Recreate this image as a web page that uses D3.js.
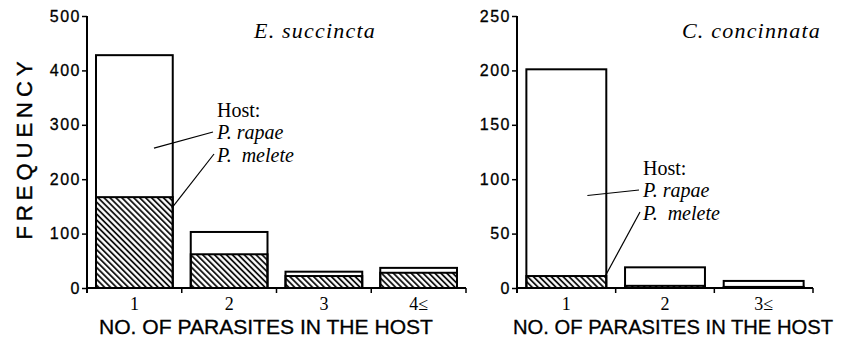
<!DOCTYPE html>
<html>
<head>
<meta charset="utf-8">
<script src="https://cdn.jsdelivr.net/npm/d3@7"></script>
<style>
  body { margin: 0; background: #fff; }
  svg { display: block; }
  .tick-num { font-family: "Liberation Sans", Arial, sans-serif; font-size: 16px; letter-spacing: 1.5px; stroke: #000; stroke-width: 0.3px; }
  .cat { font-family: "Liberation Serif", "Times New Roman", serif; font-size: 18px; }
  .xlab { font-family: "Liberation Sans", Arial, sans-serif; font-size: 20px; stroke: #000; stroke-width: 0.3px; }
  .ylab { font-family: "Liberation Sans", Arial, sans-serif; font-size: 22px; letter-spacing: 5px; stroke: #000; stroke-width: 0.4px; }
  .title { font-family: "Liberation Serif", "Times New Roman", serif; font-size: 22px; font-style: italic; letter-spacing: 1.2px; }
  .legend { font-family: "Liberation Serif", "Times New Roman", serif; font-size: 20px; }
</style>
</head>
<body>
<svg width="847" height="339"></svg>
<script>
// left panel: E. succincta
const catsA = ['1', '2', '3', '4\u2264'];
const totalA = [428, 103, 30, 37];
const meleteA = [167, 62, 22, 28];
const ticksA = [0, 100, 200, 300, 400, 500];

// right panel: C. concinnata
const catsB = ['1', '2', '3\u2264'];
const totalB = [201, 19, 6.5];
const meleteB = [11, 2, 1];
const ticksB = [0, 50, 100, 150, 200, 250];

const svg = d3.select('svg');

// hatch for P. melete
const defs = svg.append('defs');
defs.append('pattern')
    .attr('id', 'hatch')
    .attr('patternUnits', 'userSpaceOnUse')
    .attr('width', 4.2)
    .attr('height', 10)
    .attr('patternTransform', 'rotate(-45)')
  .append('line')
    .attr('x1', 1).attr('y1', 0)
    .attr('x2', 1).attr('y2', 10)
    .attr('stroke', '#000')
    .attr('stroke-width', 1.7);

function drawPanel(opt) {
    const g = svg.append('g');

    const x = d3.scaleBand()
        .domain(opt.cats)
        .range([opt.x0, opt.x1])
        .paddingInner(0.19)
        .paddingOuter(0.095);

    const y = d3.scaleLinear()
        .domain([0, opt.ymax])
        .range([288, 16]);

    // bars: total outline, then melete hatched part
    g.selectAll('rect.total')
        .data(opt.cats)
        .enter().append('rect')
            .attr('class', 'total')
            .attr('x', d => x(d))
            .attr('y', (d, i) => y(opt.total[i]))
            .attr('width', x.bandwidth())
            .attr('height', (d, i) => y(0) - y(opt.total[i]))
            .attr('fill', '#fff')
            .attr('stroke', '#000')
            .attr('stroke-width', 2);

    g.selectAll('rect.melete')
        .data(opt.cats)
        .enter().append('rect')
            .attr('class', 'melete')
            .attr('x', d => x(d))
            .attr('y', (d, i) => y(opt.melete[i]))
            .attr('width', x.bandwidth())
            .attr('height', (d, i) => y(0) - y(opt.melete[i]))
            .attr('fill', 'url(#hatch)')
            .attr('stroke', '#000')
            .attr('stroke-width', 2);

    // y axis
    const yAxis = d3.axisLeft(y)
        .tickValues(opt.ticks)
        .tickSize(5)
        .tickPadding(1)
        .tickFormat(d3.format('d'));
    const ya = g.append('g')
        .attr('transform', 'translate(' + opt.x0 + ',0)')
        .call(yAxis);
    ya.select('.domain').attr('stroke-width', 2).attr('d', 'M0,' + y(opt.ymax) + 'V' + (y(0) + 5));
    ya.selectAll('.tick line').attr('stroke-width', 1.5);
    ya.selectAll('.tick text').attr('class', 'tick-num').attr('font-size', null).attr('font-family', null).attr('fill', '#000');

    // x axis with ticks on band boundaries
    g.append('line')
        .attr('x1', opt.x0).attr('x2', opt.x1)
        .attr('y1', y(0)).attr('y2', y(0))
        .attr('stroke', '#000').attr('stroke-width', 2);
    const half = x.step() * x.paddingInner() / 2;
    g.selectAll('line.xt')
        .data(opt.cats)
        .enter().append('line')
            .attr('class', 'xt')
            .attr('x1', d => x(d) + x.bandwidth() + half)
            .attr('x2', d => x(d) + x.bandwidth() + half)
            .attr('y1', y(0)).attr('y2', y(0) + 5)
            .attr('stroke', '#000').attr('stroke-width', 1.5);

    g.selectAll('text.cat')
        .data(opt.cats)
        .enter().append('text')
            .attr('class', 'cat')
            .attr('x', d => x(d) + x.bandwidth() / 2)
            .attr('y', 310)
            .attr('text-anchor', 'middle')
            .text(d => d);

    g.append('text')
        .attr('class', 'xlab')
        .attr('x', opt.xlabX)
        .attr('y', 334)
        .attr('textLength', opt.xlabW)
        .attr('lengthAdjust', 'spacingAndGlyphs')
        .text('NO. OF PARASITES IN THE HOST');

    g.append('text')
        .attr('class', 'title')
        .attr('x', opt.titleX)
        .attr('y', 38)
        .text(opt.title);

    // legend with leader lines
    const lx = opt.legX, ly = opt.legY;
    g.append('text').attr('class', 'legend').attr('x', lx).attr('y', ly).text('Host:');
    g.append('text').attr('class', 'legend').attr('x', lx).attr('y', ly + 22)
        .style('font-style', 'italic').text('P. rapae');
    g.append('text').attr('class', 'legend').attr('x', lx).attr('y', ly + 45)
        .style('font-style', 'italic').attr('xml:space', 'preserve').text('P.  melete');

    const b = x(opt.cats[0]);
    g.append('line')
        .attr('x1', b + opt.rapaeFrom[0]).attr('y1', y(opt.rapaeFrom[1]))
        .attr('x2', lx - 4).attr('y2', ly + 15)
        .attr('stroke', '#000').attr('stroke-width', 1.2);
    g.append('line')
        .attr('x1', b + x.bandwidth() - 1).attr('y1', y(opt.meleteFrom))
        .attr('x2', lx - 3).attr('y2', ly + 37)
        .attr('stroke', '#000').attr('stroke-width', 1.2);
}

drawPanel({
    cats: catsA, total: totalA, melete: meleteA, ticks: ticksA, ymax: 500,
    x0: 87, x1: 466, xlabX: 99, xlabW: 334, title: 'E. succincta', titleX: 254,
    legX: 217, legY: 117, rapaeFrom: [58, 257], meleteFrom: 147
});

drawPanel({
    cats: catsB, total: totalB, melete: meleteB, ticks: ticksB, ymax: 250,
    x0: 517, x1: 813, xlabX: 513, xlabW: 320, title: 'C. concinnata', titleX: 682,
    legX: 643, legY: 175, rapaeFrom: [61, 85], meleteFrom: 11
});

// y label for the left panel
svg.append('text')
    .attr('class', 'ylab')
    .attr('transform', 'translate(32,148) rotate(-90)')
    .attr('text-anchor', 'middle')
    .text('FREQUENCY');
</script>
</body>
</html>
